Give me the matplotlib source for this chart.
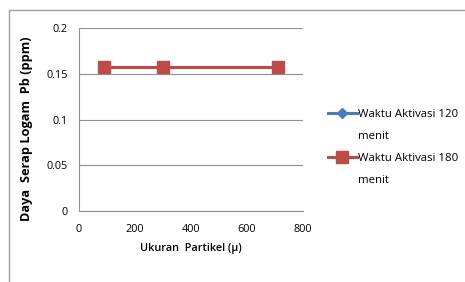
import matplotlib
matplotlib.use("Agg")
import matplotlib.pyplot as plt
from matplotlib.lines import Line2D

particle_size = [90, 300, 710]
series_120 = [0.157, 0.157, 0.157]
series_180 = [0.157, 0.157, 0.157]
yticks = [0, 0.05, 0.1, 0.15, 0.2]
yticklabels = ["0", "0.05", "0.1", "0.15", "0.2"]
xticks = [0, 200, 400, 600, 800]

plt.rcParams['font.family'] = ['Open Sans', 'DejaVu Sans']

W, H = 465, 282
fig = plt.figure(figsize=(W / 100, H / 100), dpi=100)
fig.patch.set_facecolor("white")

# outer frame
fig.add_artist(Line2D([9 / W, 9 / W], [0, 1 - 10 / H], transform=fig.transFigure, color="#a0a0a0", lw=1))
fig.add_artist(Line2D([9 / W, 1], [1 - 10 / H, 1 - 10 / H], transform=fig.transFigure, color="#a0a0a0", lw=1))

left, right, top, bottom = 79, 303, 28, 211
ax = fig.add_axes([left / W, 1 - bottom / H, (right - left) / W, (bottom - top) / H])

blue = "#4a7ebb"
red = "#be4b48"
h1, = ax.plot(particle_size, series_120, color=blue, lw=2.2, marker="D", ms=5)
h2, = ax.plot(particle_size, series_180, color=red, lw=2.2, marker="s", ms=8)

ax.set_xlim(0, 800)
ax.set_ylim(0, 0.2)
ax.set_xticks(xticks)
ax.set_yticks(yticks)
ax.set_yticklabels(yticklabels)
ax.tick_params(length=0, labelsize=7.8, colors="#000000")
ax.tick_params(axis="x", pad=9)
ax.tick_params(axis="y", pad=8)
ax.grid(axis="y", color="#909090", lw=0.8)
ax.set_axisbelow(True)
for s in ["top", "right"]:
    ax.spines[s].set_visible(False)
for s in ["left", "bottom"]:
    ax.spines[s].set_color("#909090")
    ax.spines[s].set_linewidth(0.8)

ax.set_xlabel("Ukuran  Partikel (µ)", fontsize=7.8, fontweight="semibold", labelpad=6)
ax.set_ylabel("Daya  Serap Logam  Pb (ppm)", fontsize=9.2, fontweight="bold")
ax.yaxis.set_label_coords(-0.205, 0.45)

blank = Line2D([], [], color="none")
leg = fig.legend([h1, blank, h2, blank],
                 ["Waktu Aktivasi 120", "menit", "Waktu Aktivasi 180", "menit"],
                 loc="upper left", bbox_to_anchor=(323 / W, 1 - 104 / H), frameon=False,
                 fontsize=8.2, handlelength=2.6, handletextpad=0.05, labelspacing=0.98,
                 borderaxespad=0)

fig.savefig("out.png", dpi=100)
